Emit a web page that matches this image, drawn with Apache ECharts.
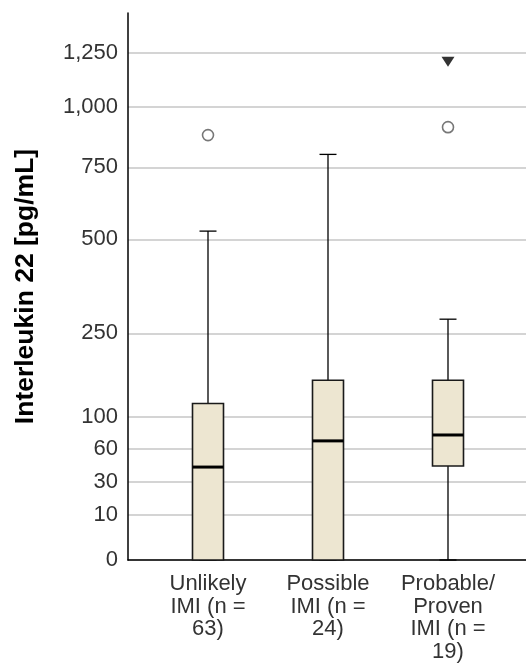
<!DOCTYPE html>
<html>
<head>
<meta charset="utf-8">
<title>Interleukin 22</title>
<script src="https://cdn.jsdelivr.net/npm/echarts@6/dist/echarts.min.js"></script>
<style>
  html, body { margin: 0; padding: 0; background: #fff; }
  #main { width: 526px; height: 666px; }
</style>
</head>
<body>
<div id="main"></div>
<script>
// categories and box values (pg/mL)
var categories = ['Unlikely\nIMI (n =\n63)', 'Possible\nIMI (n =\n24)', 'Probable/\nProven\nIMI (n =\n19)'];
var whiskerLow = [0, 0, 0];
var q1 = [0, 0, 43];
var median = [42, 69, 76];
var q3 = [119, 157, 157];
var whiskerHigh = [526, 800, 282];

// outliers: [category index, value]
var outliers = [[0, 878], [2, 911]];
var extremes = [[2, 1207]];

// axis ticks (square root scale)
var yTicks = [0, 10, 30, 60, 100, 250, 500, 750, 1000, 1250];
var yTop = 1455;

var myChart = echarts.init(document.getElementById('main'));

var boxData = categories.map(function (c, i) {
	return [i, Math.sqrt(whiskerLow[i]), Math.sqrt(q1[i]), Math.sqrt(median[i]), Math.sqrt(q3[i]), Math.sqrt(whiskerHigh[i])];
});
var sq = function (p) { return [p[0], Math.sqrt(p[1])]; };

var font = '"Liberation Sans", Arial, sans-serif';

var option = {
	animation: false,
	grid: [
		{ left: 128, right: 0, top: 13, bottom: 106 },
		{ left: 148, right: 18, top: 13, bottom: 106 }
	],
	xAxis: [ {
		gridIndex: 0,
		type: 'value',
		min: 0,
		max: 1,
		axisLine: { show: true, onZero: false, lineStyle: { color: '#000', width: 1.5 } },
		axisTick: { show: false },
		axisLabel: { show: false },
		splitLine: { show: false }
	}, {
		gridIndex: 1,
		type: 'category',
		data: categories,
		axisLine: { show: false },
		axisTick: { show: false },
		axisLabel: {
			interval: 0,
			margin: 13,
			fontFamily: font,
			fontSize: 22,
			lineHeight: 22.5,
			color: '#333',
			align: 'center'
		}
	} ],
	yAxis: [ {
		gridIndex: 0,
		type: 'value',
		min: 0,
		max: Math.sqrt(yTop),
		name: 'Interleukin 22 [pg/mL]',
		nameLocation: 'middle',
		nameGap: 89,
		nameTextStyle: { fontFamily: font, fontSize: 26.5, fontWeight: 'bold', color: '#000' },
		axisLine: { show: true, lineStyle: { color: '#000', width: 1.5 } },
		axisTick: { show: false, customValues: yTicks.map(Math.sqrt) },
		axisLabel: {
			customValues: yTicks.map(Math.sqrt),
			margin: 10,
			fontFamily: font,
			fontSize: 22,
			color: '#333',
			formatter: function (v) {
				return Math.round(v * v).toLocaleString('en-US');
			}
		},
		splitLine: { show: true, lineStyle: { color: '#c6c6c6', width: 1.5 } }
	}, {
		gridIndex: 1,
		type: 'value',
		min: 0,
		max: Math.sqrt(yTop),
		show: false
	} ],
	series: [ {
		type: 'custom',
		xAxisIndex: 1,
		yAxisIndex: 1,
		data: boxData,
		encode: { x: 0, y: [1, 2, 3, 4, 5] },
		renderItem: function (params, api) {
			var x = api.value(0);
			var pLow = api.coord([x, api.value(1)]);
			var pQ1 = api.coord([x, api.value(2)]);
			var pMed = api.coord([x, api.value(3)]);
			var pQ3 = api.coord([x, api.value(4)]);
			var pHigh = api.coord([x, api.value(5)]);
			var cx = pQ1[0];
			var hw = 15.5, cw = 8.5;
			var thin = { stroke: '#000', lineWidth: 1.3 };
			return {
				type: 'group',
				children: [
					{ type: 'line', shape: { x1: cx, y1: pLow[1], x2: cx, y2: pQ1[1] }, style: thin },
					{ type: 'line', shape: { x1: cx, y1: pQ3[1], x2: cx, y2: pHigh[1] }, style: thin },
					{ type: 'line', shape: { x1: cx - cw, y1: pLow[1], x2: cx + cw, y2: pLow[1] }, style: thin },
					{ type: 'line', shape: { x1: cx - cw, y1: pHigh[1], x2: cx + cw, y2: pHigh[1] }, style: thin },
					{ type: 'rect', shape: { x: cx - hw, y: pQ3[1], width: hw * 2, height: pQ1[1] - pQ3[1] },
						style: { fill: '#ede6d1', stroke: '#1a1a1a', lineWidth: 1.6 } },
					{ type: 'line', shape: { x1: cx - hw, y1: pMed[1], x2: cx + hw, y2: pMed[1] },
						style: { stroke: '#000', lineWidth: 3 } }
				]
			};
		}
	}, {
		// 离群值
		type: 'scatter',
		xAxisIndex: 1,
		yAxisIndex: 1,
		data: outliers.map(sq),
		symbol: 'circle',
		symbolSize: 11,
		itemStyle: { color: '#fff', borderColor: '#555', borderWidth: 1.6 }
	}, {
		// 极端值
		type: 'scatter',
		xAxisIndex: 1,
		yAxisIndex: 1,
		data: extremes.map(sq),
		symbol: 'triangle',
		symbolRotate: 180,
		symbolSize: [13, 10],
		itemStyle: { color: '#000' }
	} ]
};

myChart.setOption(option);
</script>
</body>
</html>
